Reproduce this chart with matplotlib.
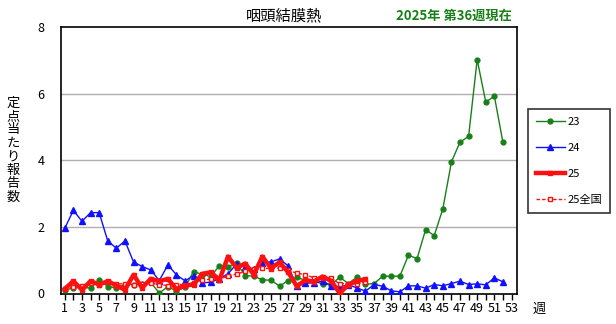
import numpy as np
import matplotlib
matplotlib.use("Agg")
import matplotlib.pyplot as plt

plt.rcParams['font.family'] = ['Noto Sans CJK JP', 'DejaVu Sans']

# weekly reports per sentinel site
weeks = np.arange(1, 53)
y2023 = [0.10, 0.17, 0.19, 0.16, 0.41, 0.21, 0.17, 0.27, 0.27, 0.29,
         0.34, 0.01, 0.21, 0.07, 0.19, 0.66, 0.57, 0.51, 0.84, 0.81,
         0.91, 0.54, 0.52, 0.41, 0.40, 0.22, 0.39, 0.49, 0.39, 0.37,
         0.29, 0.27, 0.49, 0.30, 0.49, 0.28, 0.30, 0.52, 0.52, 0.52,
         1.15, 1.05, 1.92, 1.74, 2.54, 3.95, 4.55, 4.72, 7.03, 5.75,
         5.93, 4.54]
y2024 = [1.96, 2.50, 2.17, 2.43, 2.43, 1.58, 1.36, 1.58, 0.95, 0.81,
         0.71, 0.39, 0.86, 0.56, 0.38, 0.54, 0.32, 0.34, 0.45, 0.59,
         0.89, 0.81, 0.73, 0.93, 0.95, 1.04, 0.83, 0.22, 0.31, 0.32,
         0.37, 0.24, 0.20, 0.26, 0.17, 0.07, 0.27, 0.22, 0.08, 0.05,
         0.23, 0.23, 0.16, 0.27, 0.23, 0.30, 0.37, 0.27, 0.29, 0.26,
         0.47, 0.35]
weeks25 = np.arange(1, 37)
y2025 = [0.14, 0.37, 0.11, 0.37, 0.27, 0.37, 0.24, 0.11, 0.56, 0.17,
         0.44, 0.37, 0.44, 0.13, 0.24, 0.27, 0.59, 0.64, 0.41, 1.11,
         0.77, 0.90, 0.57, 1.11, 0.76, 0.94, 0.64, 0.22, 0.40, 0.36,
         0.51, 0.38, 0.01, 0.26, 0.38, 0.43]
y2025_nat = [0.13, 0.21, 0.24, 0.31, 0.27, 0.34, 0.29, 0.29, 0.27, 0.29,
             0.31, 0.27, 0.24, 0.27, 0.27, 0.33, 0.41, 0.43, 0.41, 0.54,
             0.58, 0.67, 0.73, 0.77, 0.74, 0.77, 0.70, 0.61, 0.57, 0.47,
             0.46, 0.46, 0.29, 0.30, 0.29, 0.36]

fig = plt.figure(figsize=(6.16, 3.24), dpi=100)
ax = fig.add_axes([61/616, 1 - 293.5/324, (516.7 - 61)/616, (293.5 - 27.3)/324])

for v in (2, 4, 6):
    ax.axhline(v, color='#b4acb0', lw=1, zorder=0)

ax.plot(weeks, y2023, color='#188018', lw=1, marker='o', ms=3.5,
        mfc='#188018', mec='#188018', label='23', zorder=3)
ax.plot(weeks, y2024, color='#1010ff', lw=1, marker='^', ms=5,
        mfc='#1010ff', mec='#1010ff', label='24', zorder=3)
ax.plot(weeks25, y2025, color='#ff1010', lw=3.2, marker='s', ms=3,
        mfc='#ff1010', mec='#ff1010', label='25', zorder=5)
ax.plot(weeks25, y2025_nat, color='#ff1010', lw=1, ls=(0, (2.5, 1.5)),
        marker='s', ms=3.5, mfc='white', mec='#ff1010', mew=1,
        label='25全国', zorder=4)

ax.set_xlim(0.56, 53.6)
ax.set_ylim(0, 8)
ax.set_xticks(np.arange(1, 54))
ax.set_xticklabels([str(w) if w % 2 else '' for w in range(1, 54)])
ax.set_yticks([0, 2, 4, 6, 8])
ax.tick_params(axis='x', direction='out', length=4, width=1, pad=2,
               labelsize=9)
ax.tick_params(axis='y', length=0, pad=12, labelsize=9)
for s in ax.spines.values():
    s.set_linewidth(1.2)

fig.text(284/616, 1 - 16/324, '咽頭結膜熱', ha='center', va='center',
         fontsize=11)
fig.text(454/616, 1 - 16/324, '2025年 第36週現在', ha='center',
         va='center', fontsize=9.5, fontweight='bold', color='#188018')
fig.text(13/616, 1 - 150/324, '\n'.join('定点当たり報告数'), ha='center',
         va='center', fontsize=9.5, linespacing=1.05)
fig.text(539/616, 1 - 309/324, '週', ha='center', va='center', fontsize=9.5)

leg = fig.legend(loc='upper left', bbox_to_anchor=(528/616, 1 - 109/324),
                 frameon=True, fancybox=False, edgecolor='black',
                 fontsize=8, handlelength=2.6, labelspacing=1.45,
                 borderpad=0.7, handletextpad=0.3, borderaxespad=0)
leg.get_frame().set_linewidth(1.2)

fig.savefig('out.png', dpi=100)
